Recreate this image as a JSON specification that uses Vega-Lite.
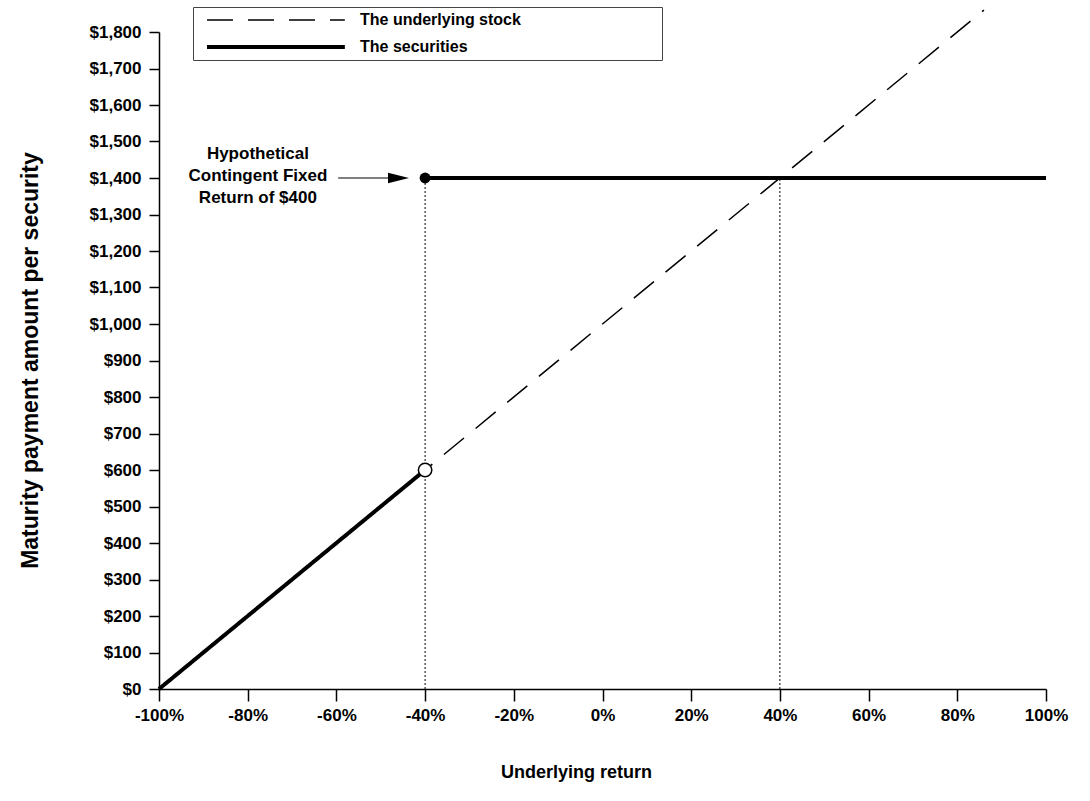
{
  "$schema": "https://vega.github.io/schema/vega-lite/v6.json",
  "width": 887,
  "height": 657,
  "autosize": {"type": "none"},
  "padding": {"left": 159, "top": 32, "right": 44, "bottom": 112},
  "background": "white",
  "config": {
    "view": {"stroke": null},
    "font": "Liberation Sans",
    "axis": {
      "domainColor": "#000",
      "domainWidth": 1.5,
      "tickColor": "#000",
      "tickWidth": 1.5,
      "grid": false,
      "labelFont": "Liberation Sans",
      "labelFontWeight": "bold",
      "labelFontSize": 17,
      "labelColor": "#000",
      "labelOverlap": false,
      "labelFlush": false,
      "titleFont": "Liberation Sans",
      "titleFontWeight": "bold",
      "titleColor": "#000"
    }
  },
  "datasets": {
    "lines": [
      {"series": "The underlying stock", "segment": "stock", "ret": -100, "amount": 0},
      {"series": "The underlying stock", "segment": "stock", "ret": 86, "amount": 1860},
      {"series": "The securities", "segment": "low", "ret": -100, "amount": 0},
      {"series": "The securities", "segment": "low", "ret": -40, "amount": 600},
      {"series": "The securities", "segment": "high", "ret": -40, "amount": 1400},
      {"series": "The securities", "segment": "high", "ret": 100, "amount": 1400}
    ],
    "guides": [
      {"ret": -40, "amount": 0, "amount2": 1400},
      {"ret": 40, "amount": 0, "amount2": 1400}
    ],
    "points": [
      {"kind": "open", "ret": -40, "amount": 600},
      {"kind": "filled", "ret": -40, "amount": 1400}
    ],
    "note": [
      {"label": "Hypothetical\nContingent Fixed\nReturn of $400", "ret": -77.7, "amount": 1400, "from": -59.6, "to": -46}
    ]
  },
  "layer": [
    {
      "data": {"name": "guides"},
      "mark": {"type": "rule", "color": "#000", "strokeWidth": 1, "strokeDash": [2, 2]},
      "encoding": {
        "x": {
          "field": "ret",
          "type": "quantitative",
          "scale": {"domain": [-100, 100], "nice": false},
          "axis": {
            "values": [-100, -80, -60, -40, -20, 0, 20, 40, 60, 80, 100],
            "tickCount": 30,
            "labelExpr": "datum.value + '%'",
            "tickSize": 12,
            "labelPadding": 6,
            "title": "Underlying return",
            "titleFontSize": 18,
            "titleX": 417,
            "titleY": 83,
            "titleAlign": "center",
            "titleBaseline": "middle"
          }
        },
        "y": {
          "field": "amount",
          "type": "quantitative",
          "scale": {"domain": [0, 1800], "nice": false},
          "axis": {
            "values": [0, 100, 200, 300, 400, 500, 600, 700, 800, 900, 1000, 1100, 1200, 1300, 1400, 1500, 1600, 1700, 1800],
            "tickCount": 30,
            "format": "$,.0f",
            "tickSize": 10,
            "labelPadding": 8,
            "title": "Maturity payment amount per security",
            "titleFontSize": 23,
            "titleX": -129,
            "titleY": 328,
            "titleAlign": "center",
            "titleBaseline": "middle"
          }
        },
        "y2": {"field": "amount2"}
      }
    },
    {
      "data": {"name": "lines"},
      "mark": {"type": "line", "color": "#000", "clip": false},
      "encoding": {
        "x": {"field": "ret", "type": "quantitative"},
        "y": {"field": "amount", "type": "quantitative"},
        "detail": {"field": "segment"},
        "strokeDash": {
          "field": "series",
          "type": "nominal",
          "scale": {"domain": ["The underlying stock", "The securities"], "range": [[26, 15], [1, 0]]},
          "legend": {
            "title": "\u00a0",
            "titleOrient": "right",
            "titlePadding": 136,
            "titleFontSize": 4,
            "orient": "none",
            "legendX": 34,
            "legendY": -25,
            "direction": "vertical",
            "strokeColor": "#444",
            "fillColor": "white",
            "padding": 5,
            "rowPadding": 10,
            "symbolType": "M0,0H20",
            "symbolSize": 190,
            "symbolStrokeColor": "#000",
            "labelFont": "Liberation Sans",
            "labelFontWeight": "bold",
            "labelFontSize": 16,
            "labelColor": "#000",
            "labelOffset": 144,
            "labelLimit": 500
          }
        },
        "strokeWidth": {
          "field": "series",
          "type": "nominal",
          "scale": {"domain": ["The underlying stock", "The securities"], "range": [1.5, 4]}
        }
      }
    },
    {
      "data": {"name": "points"},
      "transform": [{"filter": "datum.kind == 'open'"}],
      "mark": {"type": "point", "shape": "circle", "filled": true, "fill": "white", "stroke": "#000", "strokeWidth": 1.5, "size": 180, "opacity": 1},
      "encoding": {
        "x": {"field": "ret", "type": "quantitative"},
        "y": {"field": "amount", "type": "quantitative"}
      }
    },
    {
      "data": {"name": "points"},
      "transform": [{"filter": "datum.kind == 'filled'"}],
      "mark": {"type": "point", "shape": "circle", "filled": true, "color": "#000", "size": 120, "opacity": 1},
      "encoding": {
        "x": {"field": "ret", "type": "quantitative"},
        "y": {"field": "amount", "type": "quantitative"}
      }
    },
    {
      "data": {"name": "note"},
      "mark": {"type": "rule", "color": "#000", "strokeWidth": 1.2},
      "encoding": {
        "x": {"field": "from", "type": "quantitative"},
        "x2": {"field": "to"},
        "y": {"field": "amount", "type": "quantitative"}
      }
    },
    {
      "data": {"name": "note"},
      "mark": {"type": "point", "shape": "M1,0L-1,-0.5L-1,0.5Z", "filled": true, "color": "#000", "size": 441, "opacity": 1},
      "encoding": {
        "x": {"field": "to", "type": "quantitative"},
        "y": {"field": "amount", "type": "quantitative"}
      }
    },
    {
      "data": {"name": "note"},
      "mark": {"type": "text", "align": "center", "baseline": "middle", "dy": -24, "fontSize": 17, "fontWeight": "bold", "lineBreak": "\n", "lineHeight": 22, "color": "#000"},
      "encoding": {
        "x": {"field": "ret", "type": "quantitative"},
        "y": {"field": "amount", "type": "quantitative"},
        "text": {"field": "label"}
      }
    }
  ]
}
